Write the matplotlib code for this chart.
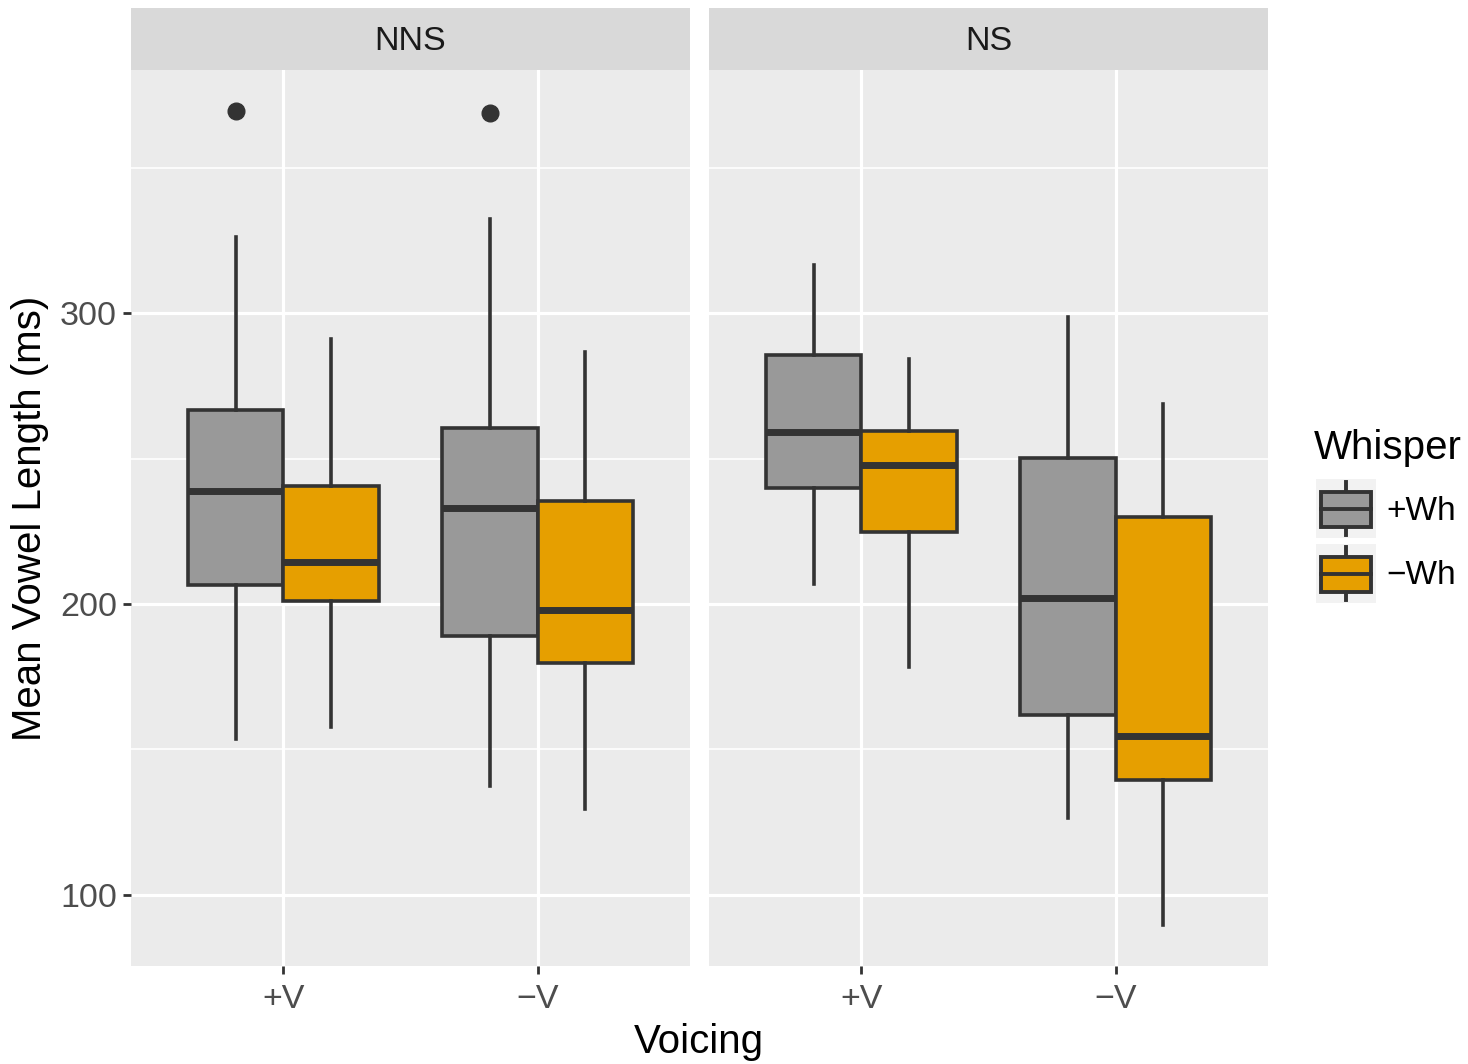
import numpy as np
import matplotlib.pyplot as plt
from matplotlib.patches import Rectangle

plt.rcParams['font.family'] = ['Liberation Sans', 'DejaVu Sans']

facets = ['NNS', 'NS']
voicing = ['+V', '\u2212V']
whisper = ['+Wh', '\u2212Wh']
colors = ['#999999', '#E69F00']

# box stats per facet -> voicing -> whisper: (whislo, q1, med, q3, whishi)
stats_nns = {
    '+V': [(153.5, 206.5, 238.9, 266.8, 326.3), (157.7, 201.0, 214.5, 240.6, 291.2)],
    '-V': [(137.3, 189.0, 233.0, 260.6, 332.5), (129.4, 179.7, 197.9, 235.5, 286.7)],
}
stats_ns = {
    '+V': [(206.9, 239.9, 259.2, 285.7, 316.7), (178.3, 224.8, 247.8, 259.6, 284.3)],
    '-V': [(126.3, 161.8, 202.1, 250.3, 298.8), (89.5, 139.4, 154.6, 229.9, 268.8)],
}
outliers_nns = {'+V': [[369.7], []], '-V': [[369.0], []]}
outliers_ns = {'+V': [[], []], '-V': [[], []]}

all_stats = [stats_nns, stats_ns]
all_out = [outliers_nns, outliers_ns]

dark = '#333333'
fig = plt.figure(figsize=(14.68, 10.64), dpi=100)
W, H = 1468, 1064

def fx(px):
    return px / W

def fy(py):
    return 1 - py / H

panels = [(131, 690), (709, 1268)]
top, bot = 70, 966
for k, (l, r) in enumerate(panels):
    ax = fig.add_axes([fx(l), fy(bot), fx(r) - fx(l), fy(top) - fy(bot)])
    ax.set_facecolor('#EBEBEB')
    for s in ax.spines.values():
        s.set_visible(False)
    ax.set_xlim(0.4, 2.6)
    ax.set_ylim(75.4, 383.8)
    for y in [150, 250, 350]:
        ax.axhline(y, color='white', lw=1.2, zorder=0)
    for y in [100, 200, 300]:
        ax.axhline(y, color='white', lw=2.3, zorder=0)
    for x in [1, 2]:
        ax.axvline(x, color='white', lw=2.3, zorder=0)

    for i, v in enumerate(['+V', '-V']):
        for j in range(2):
            lo, q1, med, q3, hi = all_stats[k][v][j]
            st = dict(whislo=lo, q1=q1, med=med, q3=q3, whishi=hi,
                      fliers=all_out[k][v][j])
            pos = (i + 1) + (-0.1875 if j == 0 else 0.1875)
            ax.bxp([st], positions=[pos], widths=0.375, patch_artist=True,
                   showcaps=False, manage_ticks=False,
                   boxprops=dict(facecolor=colors[j], edgecolor=dark, linewidth=2.6),
                   medianprops=dict(color=dark, linewidth=5.0),
                   whiskerprops=dict(color=dark, linewidth=2.6),
                   flierprops=dict(marker='o', markerfacecolor=dark,
                                   markeredgecolor=dark, markersize=12))

    ax.set_xticks([1, 2])
    ax.set_xticklabels(voicing)
    ax.set_yticks([100, 200, 300])
    ax.tick_params(colors=dark, length=6, width=2.0, labelsize=24.5,
                   labelcolor='#4D4D4D', pad=4)
    ax.tick_params(axis='x', pad=7)
    if k == 1:
        ax.tick_params(axis='y', left=False, labelleft=False)

    # strip
    sax = fig.add_axes([fx(l), fy(top), fx(r) - fx(l), fy(8) - fy(top)])
    sax.set_facecolor('#D9D9D9')
    sax.set_xticks([])
    sax.set_yticks([])
    for s in sax.spines.values():
        s.set_visible(False)
    sax.text(0.5, 0.46, facets[k], ha='center', va='center', fontsize=24.5,
             color='#1A1A1A', transform=sax.transAxes)

fig.text(fx(30), fy((top + bot) / 2), 'Mean Vowel Length (ms)', rotation=90,
         ha='center', va='center', fontsize=29)
fig.text(fx(699), fy(1042), 'Voicing', ha='center', va='center', fontsize=29)

# legend
fig.text(fx(1314), fy(448), 'Whisper', ha='left', va='center', fontsize=29)
for j, (lab, c) in enumerate(zip(whisper, colors)):
    ty = 479 + j * 65
    kax = fig.add_axes([fx(1316), fy(ty + 59), fx(60), fy(ty) - fy(ty + 59)])
    kax.set_xlim(0, 1)
    kax.set_ylim(0, 1)
    kax.set_facecolor('#F2F2F2')
    kax.set_xticks([])
    kax.set_yticks([])
    for s in kax.spines.values():
        s.set_visible(False)
    kax.plot([0.5, 0.5], [0.05, 0.95], color=dark, lw=2.8)
    kax.add_patch(Rectangle((0.09, 0.19), 0.82, 0.59, facecolor=c,
                            edgecolor=dark, lw=2.8, zorder=2))
    kax.plot([0.09, 0.91], [0.485, 0.485], color=dark, lw=2.8, zorder=3)
    fig.text(fx(1386), fy(ty + 32), lab, ha='left', va='center', fontsize=24)

fig.savefig('out.png', dpi=100)
